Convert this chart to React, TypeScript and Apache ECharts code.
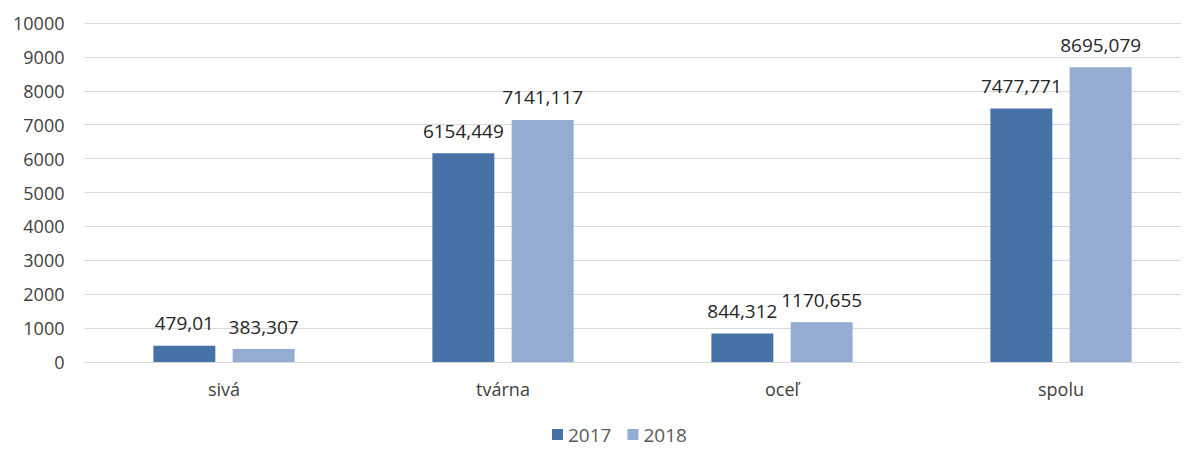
import React, { useEffect, useRef } from "react";
import * as echarts from "echarts";

const categories = ["sivá", "tvárna", "oceľ", "spolu"];
const series2017 = [479.01, 6154.449, 844.312, 7477.771];
const series2018 = [383.307, 7141.117, 1170.655, 8695.079];
const seriesNames = ["2017", "2018"];
const colors = ["#4672a8", "#95abd2"];

const fmt = (v: number) => String(v).replace(".", ",");
const FONT = "'Open Sans', 'Liberation Sans', sans-serif";

export default function App() {
  const ref = useRef<HTMLDivElement>(null);
  useEffect(() => {
    if (!ref.current) return;
    const chart = echarts.init(ref.current, undefined, { renderer: "svg" });
    const mk = (name: string, data: number[], color: string) => ({
      name,
      type: "bar",
      data,
      barWidth: "22.2%",
      barGap: "28%",
      itemStyle: { color },
      label: {
        show: true,
        position: "top",
        distance: 13,
        color: "#262626",
        fontSize: 19,
        fontFamily: FONT,
        formatter: (p: any) => fmt(p.value),
      },
    });
    chart.setOption({
      animation: false,
      textStyle: { fontFamily: FONT },
      grid: { left: 76.5, right: 7.5, top: 15, bottom: 80 },
      legend: {
        top: 417,
        left: 544,
        padding: 0,
        itemWidth: 11,
        itemHeight: 11,
        icon: "rect",
        itemGap: 16,
        textStyle: { fontSize: 19, lineHeight: 16, color: "#595959", fontFamily: FONT },
        data: seriesNames,
      },
      xAxis: {
        type: "category",
        data: categories,
        axisTick: { show: false },
        axisLine: { lineStyle: { color: "#d9d9d9" } },
        axisLabel: { fontSize: 18, color: "#404040", margin: 18, fontFamily: FONT },
      },
      yAxis: {
        type: "value",
        min: 0,
        max: 10000,
        interval: 1000,
        axisLabel: {
          fontSize: 18,
          color: "#404040",
          margin: 20,
          fontFamily: FONT,
          formatter: (v: number) => String(v),
        },
        splitLine: { lineStyle: { color: "#d9d9d9" } },
        axisLine: { show: false },
        axisTick: { show: false },
      },
      series: [
        mk(seriesNames[0], series2017, colors[0]),
        mk(seriesNames[1], series2018, colors[1]),
      ],
    });
    return () => chart.dispose();
  }, []);
  return (
    <div style={{ width: 1181, height: 434, overflow: "hidden" }}>
      <div ref={ref} style={{ width: 1200, height: 434 }} />
    </div>
  );
}
